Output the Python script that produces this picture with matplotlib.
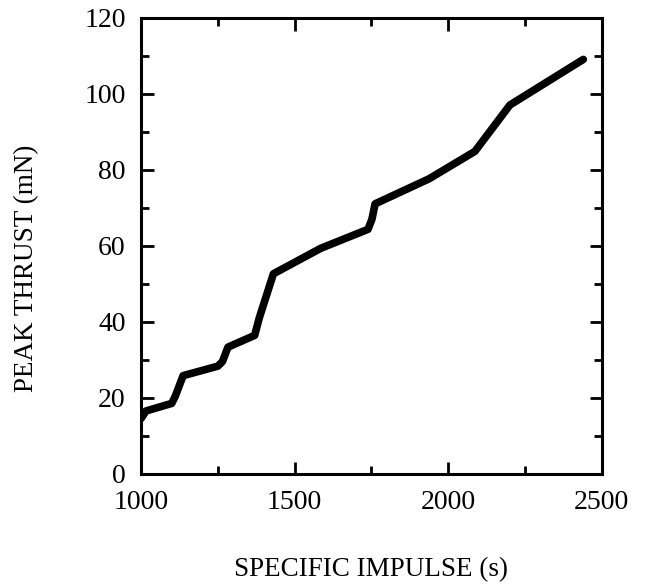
import numpy as np
import matplotlib.pyplot as plt
from matplotlib.ticker import MultipleLocator

# values
isp = [1000, 1016, 1100, 1112, 1137, 1250, 1265, 1283, 1370, 1385, 1431,
       1585, 1739, 1752, 1762, 1938, 2087, 2201, 2440]
thrust = [14.5, 16.5, 18.5, 20.5, 25.8, 28.3, 29.5, 33.3, 36.4, 41.0, 52.6,
          59.3, 64.3, 67.0, 71.0, 77.6, 84.8, 97.0, 109.0]

xticks = [1000, 1500, 2000, 2500]
yticks = [0, 20, 40, 60, 80, 100, 120]

plt.rcParams['font.family'] = ['Liberation Serif', 'DejaVu Serif']

fig = plt.figure(figsize=(6.47, 5.87), dpi=100)
ax = fig.add_axes([0.218, 0.193, 0.712, 0.777])

ax.plot(isp, thrust, color='black', linewidth=5.5, solid_joinstyle='round',
        solid_capstyle='round')

ax.set_xlim(1000, 2500)
ax.set_ylim(0, 120)
ax.set_xticks(xticks)
ax.set_yticks(yticks)
ax.xaxis.set_minor_locator(MultipleLocator(250))
ax.yaxis.set_minor_locator(MultipleLocator(10))
ax.tick_params(which='both', direction='in', top=True, right=True,
               width=2, color='black')
ax.tick_params(which='major', length=9, labelsize=20)
ax.tick_params(axis='x', which='major', pad=12)
ax.tick_params(axis='y', which='major', pad=11)
ax.tick_params(which='minor', length=5.5)
for s in ax.spines.values():
    s.set_linewidth(2.2)

ax.set_xlabel('SPECIFIC IMPULSE (s)', fontsize=19.5, labelpad=30)
ax.set_ylabel('PEAK THRUST (mN)', fontsize=19.5)
ax.yaxis.set_label_coords(-0.222, 0.45)

fig.savefig('out.png', dpi=100)
